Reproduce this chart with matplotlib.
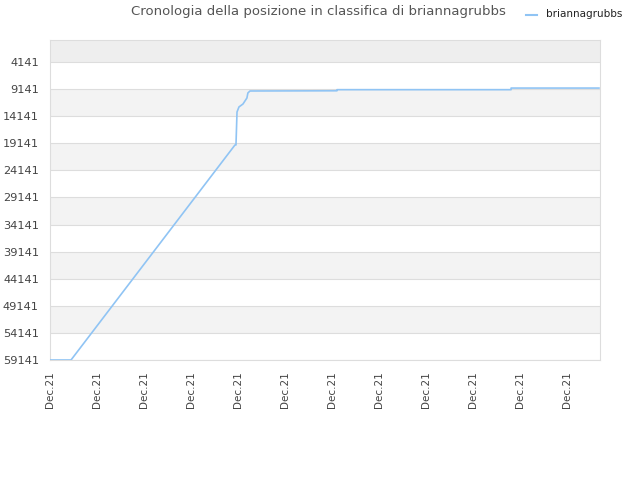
import matplotlib
matplotlib.use("Agg")
import matplotlib.pyplot as plt
from matplotlib.lines import Line2D

# ranking history, x in tick units (one tick = one "Dec.21" label)
days = [0, 0.447, 3.936, 3.957, 3.979, 4.02, 4.106, 4.19, 4.21, 4.255,
        6.106, 6.106, 9.81, 9.81, 11.68]
positions = [59141, 59141, 19450, 19450, 13370, 12440, 11890, 10780, 9860, 9490,
             9450, 9250, 9250, 8950, 8950]

ytick_vals = [4141, 9141, 14141, 19141, 24141, 29141, 34141, 39141, 44141, 49141, 54141, 59141]
xtick_labels = ["Dec.21"] * 12
series_name = "briannagrubbs"
title = "Cronologia della posizione in classifica di briannagrubbs"

fig = plt.figure(figsize=(6.4, 4.8), dpi=100)
ax = fig.add_axes([50 / 640, 120 / 480, 550 / 640, 320 / 480])

# background bands
ax.axhspan(0, 4141, color="#eeeeee", zorder=0, lw=0)
for i in range(len(ytick_vals) - 1):
    if i % 2 == 1:
        ax.axhspan(ytick_vals[i], ytick_vals[i + 1], color="#f3f3f3", zorder=0, lw=0)

for v in ytick_vals:
    ax.axhline(v, color="#dddddd", lw=0.8, zorder=1)

ax.plot(days, positions, color="#90c4f4", lw=1.2, zorder=3)

ax.set_xlim(0, 550 / 47)
ax.set_ylim(59141, 59141 - 320 * 5000 / 27.09)

ax.set_yticks(ytick_vals)
ax.set_yticklabels([str(v) for v in ytick_vals], fontsize=8.2, color="#444444")
ax.set_xticks(range(len(xtick_labels)))
ax.set_xticklabels(xtick_labels, rotation=90, fontsize=7.5, color="#444444")
ax.tick_params(axis="y", length=0, pad=8)
ax.tick_params(axis="x", length=0, pad=8)

for s in ax.spines.values():
    s.set_color("#dddddd")
    s.set_linewidth(0.8)

fig.text(318 / 640, 1 - 12 / 480, title, ha="center", va="center", fontsize=9.5, color="#555555")

# legend drawn by hand, top right
fig.add_artist(Line2D([526 / 640, 537 / 640], [1 - 15 / 480] * 2, color="#90c4f4", lw=1.5))
fig.text(546 / 640, 1 - 14 / 480, series_name, ha="left", va="center", fontsize=7.5, color="#222222")

fig.savefig("out.png", dpi=100)
